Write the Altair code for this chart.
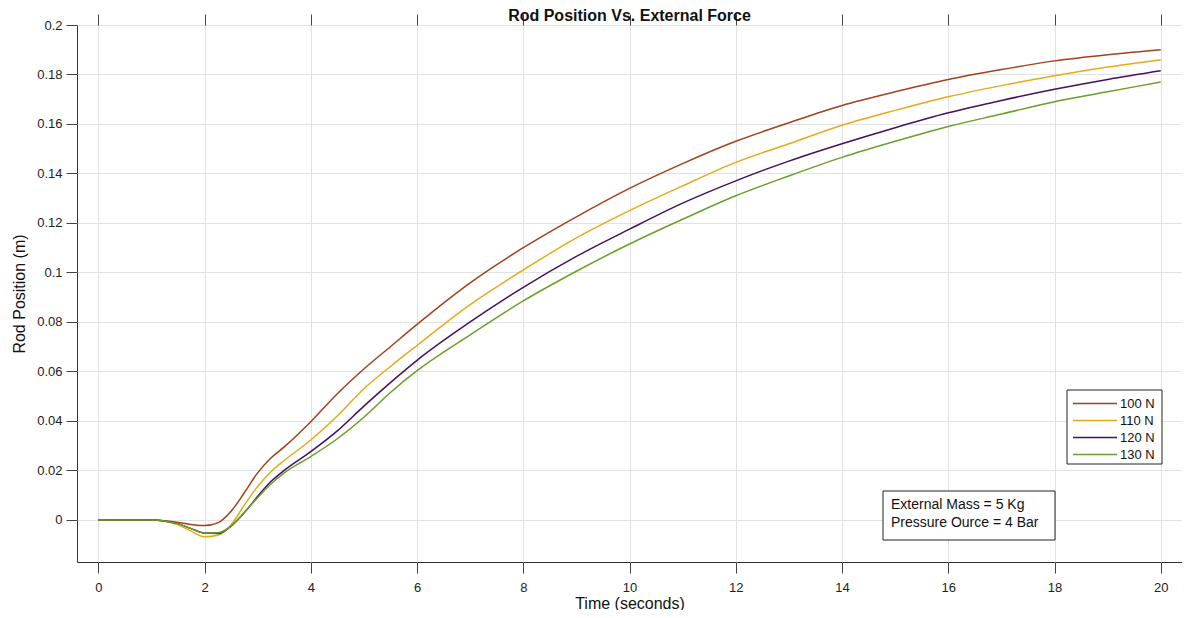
import altair as alt
import pandas as pd

# ---------------- data ----------------
time = [0, 0.5, 1, 1.25, 1.5, 1.75, 2, 2.25, 2.5, 2.75, 3, 3.25, 3.5, 4, 4.5, 5,
        5.5, 6, 7, 8, 9, 10, 11, 12, 13, 14, 15, 16, 17, 18, 19, 20]

f100 = [0, 0, 0, -0.0003, -0.001, -0.0018, -0.0023, -0.0012, 0.0035, 0.011, 0.019,
        0.025, 0.0295, 0.0397, 0.051, 0.061, 0.070, 0.079, 0.0958, 0.110, 0.1225,
        0.134, 0.144, 0.153, 0.1605, 0.1675, 0.173, 0.178, 0.182, 0.1855, 0.188, 0.190]
f110 = [0, 0, 0, -0.0005, -0.002, -0.0045, -0.0068, -0.0062, -0.002, 0.006, 0.0135,
        0.0195, 0.024, 0.0323, 0.042, 0.053, 0.062, 0.0705, 0.087, 0.101, 0.114,
        0.125, 0.135, 0.1445, 0.152, 0.1595, 0.1655, 0.171, 0.1755, 0.1795, 0.183, 0.186]
f120 = [0, 0, 0, -0.0004, -0.0015, -0.0035, -0.0053, -0.0055, -0.0025, 0.003, 0.0095,
        0.0155, 0.020, 0.0276, 0.036, 0.046, 0.0555, 0.0645, 0.080, 0.094, 0.1065,
        0.1175, 0.128, 0.137, 0.145, 0.152, 0.1585, 0.1645, 0.1695, 0.174, 0.178, 0.1815]
f130 = [0, 0, 0, -0.0004, -0.0015, -0.0035, -0.0053, -0.0052, -0.0025, 0.003, 0.009,
        0.0145, 0.019, 0.0256, 0.0328, 0.0415, 0.0515, 0.0603, 0.0748, 0.0885, 0.1005,
        0.1115, 0.1215, 0.131, 0.139, 0.1465, 0.153, 0.159, 0.164, 0.169, 0.173, 0.177]

series = ["100 N", "110 N", "120 N", "130 N"]
colors = ["#A2421B", "#E8A918", "#45115E", "#6A9F2A"]

x_ticks = [0, 2, 4, 6, 8, 10, 12, 14, 16, 18, 20]
y_ticks = [0, 0.02, 0.04, 0.06, 0.08, 0.1, 0.12, 0.14, 0.16, 0.18, 0.2]

note_lines = ["External Mass = 5 Kg", "Pressure Ource = 4 Bar"]

# ---------------- build table ----------------
rows = []
for name, vals in zip(series, [f100, f110, f120, f130]):
    for t, v in zip(time, vals):
        rows.append({"t": t, "v": v, "series": name})
df = pd.DataFrame(rows)

FONT = "Liberation Sans"
x_scale = alt.Scale(domain=[-0.4, 20.4], nice=False, zero=False)
y_scale = alt.Scale(domain=[-0.017, 0.2], nice=False, zero=False)
color_scale = alt.Scale(domain=series, range=colors)

lines = alt.Chart(df).mark_line(strokeWidth=1.5, interpolate="monotone").encode(
    x=alt.X("t:Q", scale=x_scale, title="Time (seconds)",
            axis=alt.Axis(orient="bottom", values=x_ticks, grid=True)),
    y=alt.Y("v:Q", scale=y_scale, title="Rod Position (m)",
            axis=alt.Axis(orient="left", values=y_ticks, format="~g", grid=True)),
    color=alt.Color("series:N", scale=color_scale, legend=None),
)

frame = alt.Chart(df).mark_line(opacity=0).encode(
    x=alt.X("t:Q", scale=x_scale, title=None,
            axis=alt.Axis(orient="top", values=x_ticks, labels=False, grid=False)),
    y=alt.Y("v:Q", scale=y_scale, title=None,
            axis=alt.Axis(orient="right", values=y_ticks, labels=False, grid=False)),
    detail="series:N",
)

one = pd.DataFrame({"a": [0]})

note_box = alt.Chart(one).mark_rect(fill="white", stroke="#222", strokeWidth=1).encode(
    x=alt.value(806), x2=alt.value(978), y=alt.value(466), y2=alt.value(515))
note_text = [
    alt.Chart(one).mark_text(text=txt, align="left", baseline="middle",
                             font=FONT, fontSize=14, color="#111").encode(
        x=alt.value(814), y=alt.value(480 + 18 * i))
    for i, txt in enumerate(note_lines)
]

leg_box = alt.Chart(one).mark_rect(fill="white", stroke="#222", strokeWidth=1).encode(
    x=alt.value(990), x2=alt.value(1085), y=alt.value(365), y2=alt.value(439))
leg_items = []
for i, (name, col) in enumerate(zip(series, colors)):
    leg_items.append(alt.Chart(one).mark_rule(color=col, strokeWidth=1.5).encode(
        x=alt.value(996), x2=alt.value(1040), y=alt.value(378.5 + 17 * i)))
    leg_items.append(alt.Chart(one).mark_text(text=name, align="left", baseline="middle",
                                              font=FONT, fontSize=13, color="#111").encode(
        x=alt.value(1043), y=alt.value(378.5 + 17 * i)))

chart = alt.layer(lines, frame, note_box, *note_text, leg_box, *leg_items).resolve_axis(
    x="independent", y="independent"
).properties(
    width=1105, height=537,
    padding={"left": 69, "top": 17, "right": 0, "bottom": 48},
    autosize=alt.AutoSizeParams(type="none"),
    title=alt.Title("Rod Position Vs. External Force", font=FONT, fontSize=16,
                    fontWeight="bold", color="#111", anchor="middle", offset=0, dy=10),
).configure_view(
    stroke="#333", strokeWidth=1
).configure_axis(
    domain=False, tickSize=11, tickColor="#444", tickWidth=1,
    gridColor="#e2e2e2", gridWidth=1,
    labelFont=FONT, labelFontSize=13, labelColor="#222",
    titleFont=FONT, titleFontSize=16, titleFontWeight="normal", titleColor="#111",
).configure_axisX(
    labelPadding=8, titlePadding=1
).configure_axisY(
    labelPadding=4, titlePadding=9
)

chart.save("out.html", embed_options={"renderer": "svg", "actions": False})
